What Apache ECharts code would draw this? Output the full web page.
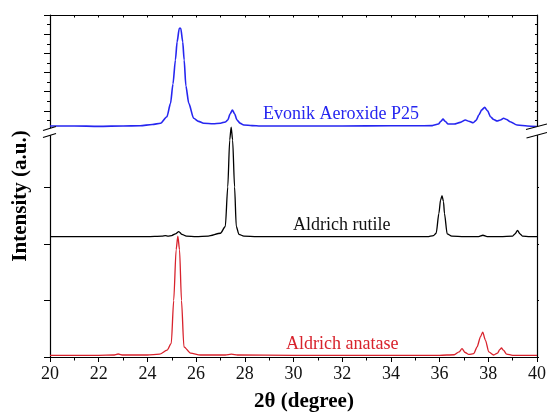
<!DOCTYPE html>
<html>
<head>
<meta charset="utf-8">
<script src="https://cdn.jsdelivr.net/npm/echarts@6/dist/echarts.min.js"></script>
<style>
  html, body { margin: 0; padding: 0; background: #ffffff; }
  #chart { width: 547px; height: 412px; }
</style>
</head>
<body>
<div id="chart"></div>
<script>
// XRD patterns of TiO2 powders (2θ in degrees, intensity in arbitrary units)

// Evonik Aeroxide P25 — upper panel
const p25Angle = [20, 21, 22, 23, 23.7, 24.2, 24.54, 24.8, 24.95, 25.05, 25.15, 25.22, 25.31, 25.37, 25.45, 25.51,
  25.58, 25.7, 25.9, 26.1, 26.31, 26.7, 27.0, 27.2, 27.3, 27.4, 27.49, 27.58, 27.68, 27.8, 27.96, 28.3, 28.64,
  30, 32, 34, 35.0, 35.7, 35.95, 36.05, 36.14, 36.23, 36.35, 36.6, 36.85, 37.06, 37.2, 37.38, 37.5, 37.61,
  37.73, 37.85, 37.97, 38.09, 38.22, 38.36, 38.5, 38.63, 38.75, 38.9, 39.18, 39.6, 40];
const p25Intensity = [0.21, 0.21, 0.19, 0.21, 0.22, 0.29, 0.35, 0.69, 1.39, 2.4, 3.65, 4.6, 5.31, 5.31, 4.6, 3.65,
  2.3, 1.39, 0.61, 0.45, 0.35, 0.33, 0.35, 0.42, 0.52, 0.85, 1.04, 0.85, 0.52, 0.36, 0.26, 0.23, 0.21,
  0.21, 0.21, 0.22, 0.22, 0.23, 0.31, 0.45, 0.57, 0.45, 0.31, 0.31, 0.4, 0.52, 0.46, 0.38, 0.5, 0.78,
  1.05, 1.18, 1.0, 0.69, 0.55, 0.47, 0.52, 0.61, 0.55, 0.43, 0.26, 0.21, 0.18];

// Aldrich rutile — lower panel, offset above the anatase trace
const rutileAngle = [20, 22, 24, 24.6, 24.74, 24.85, 25.0, 25.15, 25.29, 25.42, 25.6, 26.0, 26.5, 27.0, 27.2,
  27.3, 27.38, 27.44, 27.5, 27.58, 27.65, 27.76, 27.96, 28.5, 30, 32, 34, 35.5, 35.75, 35.86, 35.97, 36.04,
  36.1, 36.16, 36.2, 36.31, 36.5, 37.0, 37.6, 37.78, 37.95, 38.5, 39.0, 39.1, 39.2, 39.3, 39.4, 39.7, 40];
const rutileIntensity = [2.13, 2.13, 2.13, 2.14, 2.15, 2.14, 2.15, 2.18, 2.22, 2.17, 2.14, 2.13, 2.14, 2.19, 2.31,
  3.01, 3.84, 4.07, 3.84, 3.01, 2.31, 2.17, 2.14, 2.13, 2.13, 2.13, 2.13, 2.13, 2.15, 2.19, 2.54, 2.78,
  2.855, 2.75, 2.54, 2.18, 2.14, 2.13, 2.13, 2.155, 2.13, 2.13, 2.14, 2.18, 2.24, 2.18, 2.14, 2.13, 2.13];

// Aldrich anatase — lower panel
const anataseAngle = [20, 22, 22.6, 22.8, 23.0, 24.0, 24.5, 24.81, 24.98, 25.08, 25.18, 25.25, 25.32, 25.4, 25.5,
  25.77, 26.18, 27.2, 27.45, 27.7, 30, 33, 36.0, 36.6, 36.8, 36.92, 37.05, 37.2, 37.4, 37.54, 37.68, 37.77,
  37.88, 38.02, 38.22, 38.38, 38.47, 38.54, 38.62, 38.75, 39.0, 40];
const anataseIntensity = [0.03, 0.03, 0.035, 0.053, 0.035, 0.035, 0.05, 0.12, 0.24, 1.0, 1.9, 2.14, 1.9, 1.0, 0.18,
  0.07, 0.035, 0.035, 0.05, 0.035, 0.03, 0.03, 0.03, 0.04, 0.09, 0.147, 0.08, 0.045, 0.06, 0.18, 0.36, 0.44,
  0.3, 0.09, 0.035, 0.07, 0.13, 0.16, 0.12, 0.05, 0.03, 0.03];

// Axis ranges and tick steps
const angleRange = [20, 40];
const angleStep = 2;
const upperRange = [0, 6];
const lowerRange = [0, 4];

const seriesNames = ['Evonik Aeroxide P25', 'Aldrich rutile', 'Aldrich anatase'];
const seriesColors = ['#2626f0', '#000000', '#d8222c'];

const serif = '"Liberation Serif", "Times New Roman", serif';
const pair = (xs, ys) => xs.map((x, i) => [x, ys[i]]);

const chart = echarts.init(document.getElementById('chart'), null, { renderer: 'canvas' });

const axisLineStyle = { show: true, onZero: false, lineStyle: { color: '#000', width: 1.2 } };
const tickStyle = { color: '#000', width: 1 };

const traceBase = { type: 'line', showSymbol: false, symbol: 'none', clip: false, smooth: 0.25, smoothMonotone: 'x' };

const option = {
  animation: false,
  backgroundColor: '#ffffff',
  grid: [
    { left: 50, right: 10, top: 15, height: 115, outerBoundsMode: 'none', containLabel: false },
    { left: 50, right: 10, top: 131, height: 226, outerBoundsMode: 'none', containLabel: false }
  ],
  xAxis: [
    {
      type: 'value', gridIndex: 0, position: 'top',
      min: angleRange[0], max: angleRange[1], interval: 1,
      axisLine: axisLineStyle,
      axisTick: { show: true, inside: true, length: 2.5, lineStyle: tickStyle },
      axisLabel: { show: false },
      splitLine: { show: false }
    },
    {
      type: 'value', gridIndex: 1, position: 'bottom',
      min: angleRange[0], max: angleRange[1], interval: angleStep,
      axisLine: axisLineStyle,
      axisTick: { show: true, inside: false, length: 5, lineStyle: tickStyle },
      minorTick: { show: true, splitNumber: 2, length: 3.5, lineStyle: tickStyle },
      axisLabel: { show: true, margin: 8, color: '#111', fontSize: 18, fontFamily: serif },
      splitLine: { show: false },
      minorSplitLine: { show: false }
    }
  ],
  yAxis: [
    {
      type: 'value', gridIndex: 0, position: 'left',
      min: upperRange[0], max: upperRange[1], interval: 1,
      axisLine: axisLineStyle,
      axisTick: { show: true, inside: false, length: 6, lineStyle: tickStyle },
      minorTick: { show: true, splitNumber: 2, length: 3, lineStyle: tickStyle },
      axisLabel: { show: false },
      splitLine: { show: false }, minorSplitLine: { show: false }
    },
    {
      type: 'value', gridIndex: 0, position: 'right',
      min: upperRange[0], max: upperRange[1], interval: 0.5,
      axisLine: axisLineStyle,
      axisTick: { show: true, inside: true, length: 2, lineStyle: tickStyle },
      axisLabel: { show: false },
      splitLine: { show: false }
    },
    {
      type: 'value', gridIndex: 1, position: 'left',
      min: lowerRange[0], max: lowerRange[1], interval: 1,
      axisLine: axisLineStyle,
      axisTick: { show: true, inside: false, length: 6, lineStyle: tickStyle },
      axisLabel: { show: false },
      splitLine: { show: false }
    },
    {
      type: 'value', gridIndex: 1, position: 'right',
      min: lowerRange[0], max: lowerRange[1], interval: 1,
      axisLine: axisLineStyle,
      axisTick: { show: true, inside: false, length: 2, lineStyle: tickStyle },
      axisLabel: { show: false },
      splitLine: { show: false }
    }
  ],
  series: [
    Object.assign({}, traceBase, {
      name: seriesNames[0], xAxisIndex: 0, yAxisIndex: 0,
      data: pair(p25Angle, p25Intensity),
      lineStyle: { color: seriesColors[0], width: 1.6 }, z: 3
    }),
    Object.assign({}, traceBase, {
      name: seriesNames[1], xAxisIndex: 1, yAxisIndex: 2,
      data: pair(rutileAngle, rutileIntensity),
      lineStyle: { color: seriesColors[1], width: 1.3 }, z: 3
    }),
    Object.assign({}, traceBase, {
      name: seriesNames[2], xAxisIndex: 1, yAxisIndex: 2,
      data: pair(anataseAngle, anataseIntensity),
      lineStyle: { color: seriesColors[2], width: 1.3 }, z: 2
    })
  ],
  graphic: [
    // axis break on the left and right frame
    { type: 'polygon', z: 100, shape: { points: [[43, 130.5], [56, 126.5], [56, 133.5], [43, 137.5]] },
      style: { fill: '#ffffff' } },
    { type: 'line', z: 101, shape: { x1: 43, y1: 130.5, x2: 56, y2: 126.5 }, style: { stroke: '#000', lineWidth: 1.2 } },
    { type: 'line', z: 101, shape: { x1: 43, y1: 137.5, x2: 56, y2: 133.5 }, style: { stroke: '#000', lineWidth: 1.2 } },
    { type: 'polygon', z: 100, shape: { points: [[526, 129.5], [547, 124], [547, 132.5], [526.5, 138]] },
      style: { fill: '#ffffff' } },
    { type: 'line', z: 101, shape: { x1: 526, y1: 129.5, x2: 547, y2: 124 }, style: { stroke: '#000', lineWidth: 1.2 } },
    { type: 'line', z: 101, shape: { x1: 526.5, y1: 138, x2: 547, y2: 132.5 }, style: { stroke: '#000', lineWidth: 1.2 } },
    // trace names
    { type: 'text', z: 102, x: 263, y: 114,
      style: { text: seriesNames[0], fill: seriesColors[0], font: '18px ' + serif, verticalAlign: 'middle' } },
    { type: 'text', z: 102, x: 293, y: 225.5,
      style: { text: seriesNames[1], fill: '#111', font: '18px ' + serif, verticalAlign: 'middle' } },
    { type: 'text', z: 102, x: 286, y: 344,
      style: { text: seriesNames[2], fill: seriesColors[2], font: '18px ' + serif, verticalAlign: 'middle' } },
    // axis titles
    { type: 'text', z: 102, x: 304, y: 402,
      style: { text: '2θ (degree)', fill: '#000', font: 'bold 21px ' + serif, align: 'center', verticalAlign: 'middle' } },
    { type: 'text', z: 102, x: 21, y: 196, rotation: Math.PI / 2,
      style: { text: 'Intensity (a.u.)', fill: '#000', font: 'bold 21px ' + serif, align: 'center', verticalAlign: 'middle' } }
  ]
};

chart.setOption(option);
</script>
</body>
</html>
